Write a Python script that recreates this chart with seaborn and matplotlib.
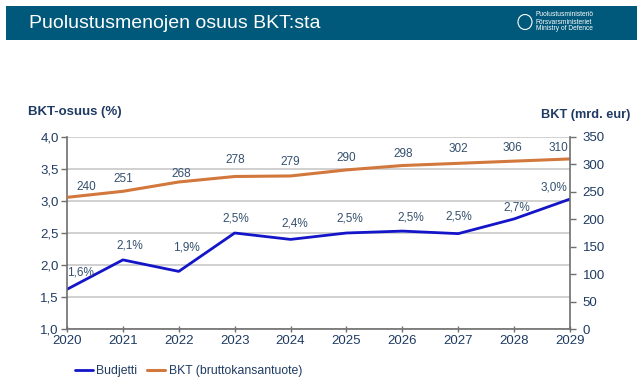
import matplotlib
matplotlib.use("Agg")
import matplotlib.pyplot as plt
from matplotlib.patches import Rectangle, Ellipse
import seaborn as sns
import pandas as pd

years = [2020, 2021, 2022, 2023, 2024, 2025, 2026, 2027, 2028, 2029]
budjetti = [1.62, 2.08, 1.90, 2.50, 2.40, 2.50, 2.53, 2.49, 2.72, 3.03]
budjetti_labels = ["1,6%", "2,1%", "1,9%", "2,5%", "2,4%", "2,5%", "2,5%", "2,5%", "2,7%", "3,0%"]
bkt = [240, 251, 268, 278, 279, 290, 298, 302, 306, 310]
left_ticks = [1.0, 1.5, 2.0, 2.5, 3.0, 3.5, 4.0]
left_ticklabels = ["1,0", "1,5", "2,0", "2,5", "3,0", "3,5", "4,0"]
right_ticks = [0, 50, 100, 150, 200, 250, 300, 350]

sns.set_theme(style="white")
plt.rcParams['font.family'] = ['Liberation Sans', 'DejaVu Sans']

TXT = "#1f3b63"
LBL = "#34506e"
BLUE = "#1414c8"
ORANGE = "#d2783c"

df = pd.DataFrame({"year": years, "budjetti": budjetti, "bkt": bkt})

fig = plt.figure(figsize=(6.42, 3.81), dpi=100)
ax = fig.add_axes([67/642, 1 - 329/381, (570 - 67)/642, (329 - 137)/381])
ax2 = ax.twinx()

sns.lineplot(data=df, x="year", y="budjetti", ax=ax, color=BLUE, linewidth=2, label="Budjetti", legend=False)
sns.lineplot(data=df, x="year", y="bkt", ax=ax2, color=ORANGE, linewidth=2.2, label="BKT (bruttokansantuote)", legend=False)

ax.set_xlim(2020, 2029)
ax.set_ylim(1.0, 4.0)
ax2.set_ylim(0, 350)
ax.set_xticks(years)
ax.set_xticklabels([str(y) for y in years])
ax.set_yticks(left_ticks)
ax.set_yticklabels(left_ticklabels)
ax2.set_yticks(right_ticks)
ax.set_xlabel("")
ax.set_ylabel("")
ax2.set_ylabel("")

ax.grid(axis="y", color="#c8c8c8", linewidth=1.2)
ax.set_axisbelow(True)
for a in (ax, ax2):
    for s in a.spines.values():
        s.set_visible(False)
for a, side in ((ax, "left"), (ax, "bottom"), (ax2, "right")):
    a.spines[side].set_visible(True)
    a.spines[side].set_color("#6e6e6e")
    a.spines[side].set_linewidth(1.2)

ax.tick_params(axis="x", which="both", direction="inout", length=5, width=1, color="#6e6e6e",
               labelsize=9.5, labelcolor=TXT, pad=2, bottom=True)
ax.tick_params(axis="y", direction="out", length=4, width=1, color="#6e6e6e",
               labelsize=9.5, labelcolor=TXT, pad=2, left=True)
ax2.tick_params(axis="y", direction="out", length=4, width=1, color="#6e6e6e",
                labelsize=9.5, labelcolor=TXT, pad=5, right=True)

# data labels (offsets in pixels from the point to the label centre)
b_off = [(13, 17), (7, 14), (8, 24), (1, 14), (4, 16), (3, 14), (8, 14), (1, 17), (3, 11), (-16, 12)]
for x, y, t, (dx, dy) in zip(years, budjetti, budjetti_labels, b_off):
    ax.annotate(t, (x, y), xytext=(dx, dy), textcoords="offset pixels", ha="center", va="center",
                fontsize=8.5, color=LBL)
k_off = [(19, 10), (0, 12), (2, 8), (1, 16), (0, 14), (0, 12), (1, 12), (0, 14), (-2, 13), (-12, 11)]
for x, y, (dx, dy) in zip(years, bkt, k_off):
    ax2.annotate(str(y), (x, y), xytext=(dx, dy), textcoords="offset pixels", ha="center", va="center",
                 fontsize=8.5, color=LBL)

fig.text(28/642, 1 - 112/381, "BKT-osuus (%)", fontsize=9.5, fontweight="bold", color=TXT, va="center")
fig.text(630/642, 1 - 115/381, "BKT (mrd. eur)", fontsize=9.2, fontweight="bold", color=TXT, va="center", ha="right")

# legend
h1, l1 = ax.get_legend_handles_labels()
h2, l2 = ax2.get_legend_handles_labels()
fig.legend(h1 + h2, l1 + l2, loc="center left", bbox_to_anchor=(75/642, 1 - 371/381), ncol=2,
           frameon=False, fontsize=8.8, labelcolor=TXT,
           handlelength=1.45, handletextpad=0.3, columnspacing=0.8, borderaxespad=0, borderpad=0)

# banner
fig.patches.append(Rectangle((6/642, 1 - 40/381), 631/642, 34/381, transform=fig.transFigure,
                             facecolor="#00587a", edgecolor="none", zorder=0))
fig.text(29/642, 1 - 23/381, "Puolustusmenojen osuus BKT:sta", fontsize=14, color="white", va="center")
fig.patches.append(Ellipse((525/642, 1 - 22/381), 14/642, 15/381, transform=fig.transFigure,
                           facecolor="none", edgecolor="white", linewidth=0.8))
fig.text(536/642, 1 - 22/381, "Puolustusministeriö\nFörsvarsministeriet\nMinistry of Defence",
         fontsize=4.8, color="white", va="center", linespacing=1.0)

fig.savefig("out.png", dpi=100)
